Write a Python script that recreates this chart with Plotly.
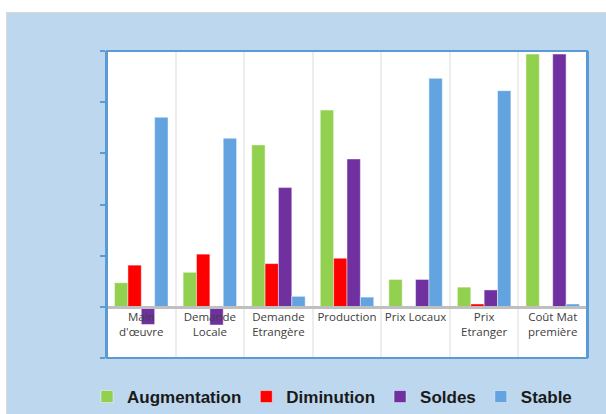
import plotly.graph_objects as go

categories = ["Main<br>d'œuvre", "Demande<br>Locale", "Demande<br>Etrangère", "Production",
              "Prix Locaux", "Prix<br>Etranger", "Coût Mat<br>première"]
augmentation = [9.4, 13.5, 63.3, 76.9, 10.7, 7.7, 98.8]
diminution = [16.3, 20.6, 16.9, 19.0, 0.0, 1.1, 0.0]
soldes = [-6.9, -7.1, 46.6, 57.8, 10.7, 6.6, 98.8]
stable = [74.1, 65.9, 4.1, 3.8, 89.3, 84.5, 1.1]
y_ticks = [-20, 0, 20, 40, 60, 80, 100]

series = [
    ("Augmentation", augmentation, "#92D050"),
    ("Diminution", diminution, "#FF0000"),
    ("Soldes", soldes, "#7030A0"),
    ("Stable", stable, "#62A3E0"),
]

fig = go.Figure()
for name, vals, col in series:
    fig.add_trace(go.Bar(
        x=categories, y=vals, name=name,
        marker=dict(color=col, line=dict(color="rgba(255,255,255,0.45)", width=1)),
    ))

W, H = 606, 414
L, R, T, B = 107, 19, 51, 56
pw, ph = W - L - R, H - T - B

def px_x(p):
    return (p - L) / pw

def px_y(p):
    return (H - B - p) / ph

blue = "#5B9BD5"
shapes = [
    dict(type="rect", xref="paper", yref="paper", x0=px_x(0), x1=px_x(W), y0=px_y(12), y1=px_y(0),
         fillcolor="white", line=dict(width=0), layer="below"),
    dict(type="rect", xref="paper", yref="paper", x0=px_x(0), x1=px_x(6), y0=px_y(H), y1=px_y(0),
         fillcolor="white", line=dict(width=0), layer="below"),
    dict(type="line", xref="paper", yref="paper", x0=px_x(6), x1=px_x(W), y0=px_y(12.5), y1=px_y(12.5),
         line=dict(color="#D9D9D9", width=1)),
    dict(type="line", xref="paper", yref="paper", x0=px_x(6.5), x1=px_x(6.5), y0=px_y(H), y1=px_y(12),
         line=dict(color="#D9D9D9", width=1)),
    dict(type="rect", xref="paper", yref="paper", x0=0, x1=1, y0=0, y1=1,
         line=dict(color=blue, width=2), fillcolor="rgba(0,0,0,0)"),
]

fig.update_layout(
    width=W, height=H,
    margin=dict(l=L, r=R, t=T, b=B, pad=0, autoexpand=False),
    paper_bgcolor="#BDD7EE",
    plot_bgcolor="white",
    barmode="group",
    bargap=0.22,
    bargroupgap=0,
    shapes=shapes,
    showlegend=True,
    legend=dict(
        orientation="h", x=px_x(87), xanchor="left", y=px_y(397), yanchor="middle",
        font=dict(family="Liberation Sans", size=17, color="#1A1A1A", weight="bold"),
        bgcolor="rgba(0,0,0,0)", itemclick=False, traceorder="normal",
    ),
    xaxis=dict(
        type="category", anchor="free", position=20 / 120,
        showline=True, linecolor="#BFBFBF", linewidth=3,
        tickson="boundaries", ticks="", showgrid=True, gridcolor="#EDEDED", gridwidth=2,
        tickangle=0, ticklabelstandoff=-2,
        tickfont=dict(family="Open Sans", size=11.5, color="#404040"),
        automargin=False, fixedrange=True,
    ),
    yaxis=dict(
        range=[-20, 100], tickvals=y_ticks, showticklabels=False,
        ticks="outside", ticklen=5, tickwidth=2, tickcolor=blue,
        showline=True, linecolor=blue, linewidth=2, mirror=True,
        showgrid=False, zeroline=False, automargin=False, fixedrange=True,
    ),
)

fig.write_html(
    "out.html",
    config={"displayModeBar": False},
    post_script="document.body.style.margin='0';document.body.style.overflow='hidden';",
)
